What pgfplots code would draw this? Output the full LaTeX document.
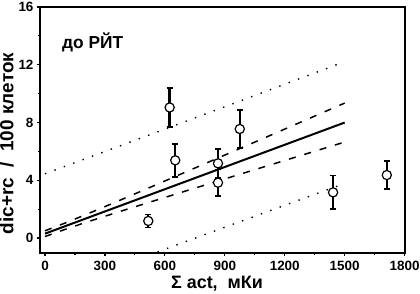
\documentclass[border=0pt]{standalone}
\usepackage{fontspec}
\setmainfont{Liberation Sans}
\usepackage{pgfplots}
\pgfplotsset{compat=1.18}
\begin{document}
\begin{tikzpicture}
\begin{axis}[
  name=ax,
  scale only axis, width=365bp, height=246bp,
  xmin=-25, xmax=1802, ymin=-1.04, ymax=16,
  xtick={0,300,...,1800}, ytick={0,4,...,16},
  minor x tick num=1, minor y tick num=1,
  xtick pos=left, ytick pos=left,
  tick align=outside,
  major tick length=3bp, minor tick length=2bp,
  every tick/.style={black, line width=1.2bp},
  axis line style={line width=2.2bp},
  /pgf/number format/assume math mode=true,
  /pgf/number format/1000 sep={},
  scaled x ticks=false,
  tick label style={font=\fontsize{13.5}{15}\selectfont\bfseries},
  xticklabel style={yshift=-1.5bp},
  xlabel={Σ act,\ \ мКи},
  ylabel={dic+rc\ \ /\ \ 100 клеток},
  every axis x label/.style={at={(axis description cs:0.485,-0.1423)}, anchor=base, inner sep=0, font=\fontsize{18}{20}\selectfont\bfseries},
  every axis y label/.style={at={(axis description cs:-0.0712,0.445)}, rotate=90, anchor=south, inner sep=0, font=\fontsize{19}{21}\selectfont\bfseries},
]
% prediction bands (dotted)
\addplot[black, line width=1.4bp, dash pattern=on 1.4bp off 8.6bp] coordinates {
(0,4.45) (100,4.963) (200,5.477) (300,5.992) (400,6.507) (500,7.023) (600,7.539) (700,8.056) (800,8.573) (900,9.091) (1000,9.610) (1100,10.129) (1200,10.649) (1300,11.169) (1400,11.691) (1500,12.212)};
\addplot[black, line width=1.4bp, dash pattern=on 1.4bp off 8.6bp] coordinates {
(0,-3.85) (100,-3.337) (200,-2.825) (300,-2.314) (400,-1.803) (500,-1.293) (600,-0.783) (700,-0.274) (800,0.235) (900,0.743) (1000,1.250) (1100,1.757) (1200,2.263) (1300,2.769) (1400,3.273) (1500,3.778)};
% confidence bands (dashed)
\addplot[black, line width=1.5bp, dash pattern=on 7bp off 9bp] coordinates {
(0,0.50) (100,1.032) (200,1.594) (300,2.173) (400,2.760) (500,3.353) (600,3.948) (700,4.545) (800,5.144) (900,5.743) (1000,6.342) (1100,6.942) (1200,7.543) (1300,8.143) (1400,8.744) (1500,9.345)};
\addplot[black, line width=1.5bp, dash pattern=on 7bp off 9bp] coordinates {
(0,0.10) (100,0.594) (200,1.058) (300,1.505) (400,1.944) (500,2.377) (600,2.808) (700,3.237) (800,3.664) (900,4.091) (1000,4.518) (1100,4.944) (1200,5.369) (1300,5.795) (1400,6.220) (1500,6.645)};
% regression line
\addplot[black, line width=2bp] coordinates {(0,0.30) (1500,7.995)};
% data
\addplot[only marks, mark=*, mark size=4.6bp,
  mark options={fill=white, draw=black, line width=1.2bp},
  error bars/.cd, y dir=both, y explicit,
  error bar style={line width=2.4bp, black},
  error mark options={black, mark size=3bp, line width=1.6bp, rotate=90}]
coordinates {
(517,1.18) +- (0,0.45)
(624,9.04) +- (0,1.37)
(652,5.38) +- (0,1.15)
(866,5.17) +- (0,1.0)
(866,3.83) +- (0,0.92)
(975,7.55) +- (0,1.3)
(1442,3.16) +- (0,1.17)
(1711,4.36) +- (0,0.98)
};
\node[anchor=base west, inner sep=0, font=\fontsize{17.4}{19}\selectfont\bfseries] at (axis cs:85,13.1) {до РЙТ};
\end{axis}
\pgfresetboundingbox
\path[use as bounding box] ([shift={(-40bp,-41bp)}]ax.south west) rectangle ([shift={(15bp,7bp)}]ax.north east);
\end{tikzpicture}
\end{document}
